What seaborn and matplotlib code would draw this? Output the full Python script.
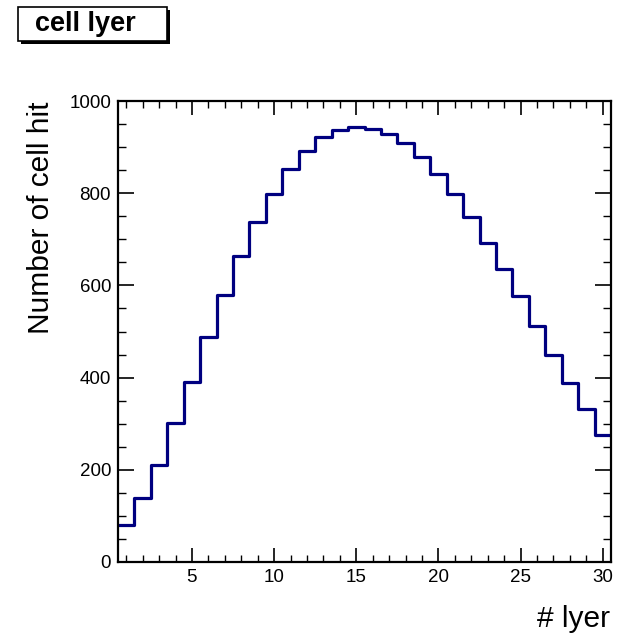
import numpy as np
import pandas as pd
import matplotlib
matplotlib.use("Agg")
import matplotlib.pyplot as plt
from matplotlib.patches import Rectangle
from matplotlib.ticker import MultipleLocator
import seaborn as sns

# ---- data ----
layers = list(range(1, 31))
hits = [80, 138, 210, 301, 391, 489, 579, 664, 737, 799,
        852, 891, 921, 937, 943, 939, 928, 908, 878, 842,
        798, 749, 693, 635, 577, 512, 450, 389, 331, 275]
title_text = "cell lyer"
x_title = "# lyer"
y_title = "Number of cell hit"

df = pd.DataFrame({"layer": layers, "hits": hits})

sns.set_style("white")
plt.rcParams["font.family"] = ["Liberation Sans", "DejaVu Sans"]
plt.rcParams["text.color"] = "black"
plt.rcParams["axes.labelcolor"] = "black"
plt.rcParams["xtick.color"] = "black"
plt.rcParams["ytick.color"] = "black"

W, H = 635, 640
fig = plt.figure(figsize=(W / 100, H / 100), dpi=100)
ax = fig.add_axes([118 / W, 1 - 562 / H, (611 - 118) / W, (562 - 101) / H])

sns.histplot(data=df, x="layer", weights="hits", discrete=True,
             element="step", fill=False, color="#000080", linewidth=2.3,
             ax=ax)

ax.set_xlim(0.5, 30.5)
ax.set_ylim(0, 1000)
ax.xaxis.set_major_locator(MultipleLocator(5))
ax.xaxis.set_minor_locator(MultipleLocator(1))
ax.yaxis.set_major_locator(MultipleLocator(200))
ax.yaxis.set_minor_locator(MultipleLocator(50))

ax.tick_params(axis="x", which="major", direction="in", length=10, width=1.2,
               top=True, bottom=True, labelsize=13.5, pad=5,
               colors="black", labelcolor="black")
ax.tick_params(axis="x", which="minor", direction="in", length=5, width=1.0,
               top=True, bottom=True, colors="black")
ax.tick_params(axis="y", which="major", direction="in", length=11.5, width=1.2,
               left=True, right=True, labelsize=13.5, pad=5,
               colors="black", labelcolor="black")
ax.tick_params(axis="y", which="minor", direction="in", length=6, width=1.0,
               left=True, right=True, colors="black")
for s in ax.spines.values():
    s.set_visible(True)
    s.set_color("black")
    s.set_linewidth(1.6)

ax.set_xlabel("")
ax.set_ylabel("")
fig.text(610 / W, 1 - 627 / H, x_title, ha="right", va="baseline",
         fontsize=21.5, color="black")
fig.text(41 / W, 1 - 101 / H, y_title, ha="center", va="top", rotation=90,
         fontsize=21.5, color="black")

# title box with shadow (ROOT style)
ft = fig.transFigure
fig.patches.append(Rectangle((21 / W, 1 - 44 / H), 149 / W, 34 / H,
                             transform=ft, facecolor="black", edgecolor="none",
                             zorder=1))
fig.patches.append(Rectangle((18 / W, 1 - 41 / H), 149 / W, 34 / H,
                             transform=ft, facecolor="white", edgecolor="black",
                             linewidth=1.2, zorder=2))
fig.text(35 / W, 1 - 24 / H, title_text, ha="left", va="center",
         fontsize=19.5, fontweight="bold", color="black", zorder=3)

fig.savefig("out.png", dpi=100, facecolor="white")
